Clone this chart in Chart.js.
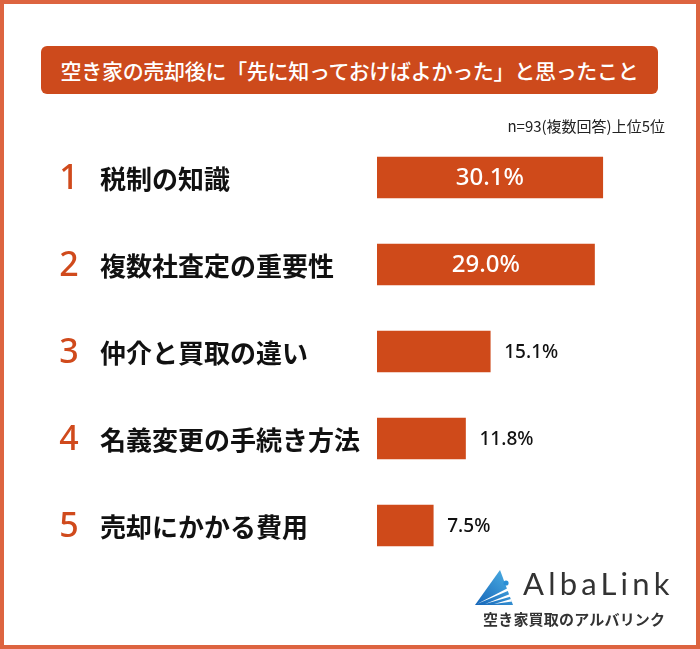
<!DOCTYPE html>
<html lang="ja">
<head>
  <meta charset="UTF-8">
  <title>空き家の売却後に「先に知っておけばよかった」と思ったこと</title>
  <script src="https://cdn.jsdelivr.net/npm/chart.js"></script>
  <style>
    body {
      margin: 0;
      padding: 0;
      background-color: #fff;
      font-family: "Noto Sans CJK JP", "Noto Sans", sans-serif;
    }

    .frame {
      position: relative;
      width: 700px;
      height: 649px;
      box-sizing: border-box;
      border: 4px solid #dd6440;
      overflow: hidden;
    }

    canvas {
      position: absolute;
      left: -4px;
      top: -4px;
    }

    .title {
      position: absolute;
      left: 37px;
      top: 42px;
      width: 617px;
      height: 48px;
      border-radius: 6px;
      background-color: #cd4a1c;
      color: #fff;
      font-size: 21px;
      font-weight: 500;
      letter-spacing: -0.3px;
      line-height: 48px;
      text-align: center;
    }

    .note {
      position: absolute;
      right: 31px;
      top: 111px;
      font-size: 15px;
      color: #222;
    }

    .logo {
      position: absolute;
      left: 466px;
      top: 556px;
      width: 210px;
      height: 74px;
    }

    .logo svg {
      position: absolute;
      left: 3px;
      top: 6px;
    }

    .logo .name {
      position: absolute;
      left: 53px;
      top: 4px;
      font-family: Lato, "Noto Sans", sans-serif;
      font-size: 31px;
      letter-spacing: 4.2px;
      color: #333;
    }

    .logo .sub {
      position: absolute;
      left: 13px;
      top: 48px;
      font-size: 15px;
      font-weight: bold;
      letter-spacing: 0.2px;
      color: #333;
      white-space: nowrap;
    }
  </style>
</head>
<body>

  <div class="frame">
    <canvas id="rankChart" width="700" height="649"></canvas>
    <div class="title">空き家の売却後に「先に知っておけばよかった」と思ったこと</div>
    <div class="note">n=93(複数回答)上位5位</div>
    <div class="logo">
      <svg width="42" height="40" viewBox="0 0 42 40">
        <defs>
          <linearGradient id="g" x1="0" y1="1" x2="1" y2="0">
            <stop offset="0" stop-color="#1565b8"/>
            <stop offset="1" stop-color="#4fb3e6"/>
          </linearGradient>
        </defs>
        <polygon points="2,39 27,4 40,39" fill="url(#g)"/>
        <path d="M4,38 L35,22 L36,24.5 Z" fill="#fff"/>
        <path d="M12,38 L37,28 L38,30.5 Z" fill="#fff"/>
        <path d="M21,38 L38,33 L39,35.5 Z" fill="#fff"/>
        <circle cx="33" cy="17" r="2.6" fill="#2a8fd6"/>
      </svg>
      <div class="name">AlbaLink</div>
      <div class="sub">空き家買取のアルバリンク</div>
    </div>
  </div>

  <script>
    // 上位5位のデータ
    var ranks = ['1', '2', '3', '4', '5'];
    var categories = ['税制の知識', '複数社査定の重要性', '仲介と買取の違い', '名義変更の手続き方法', '売却にかかる費用'];
    var percents = [30.1, 29.0, 15.1, 11.8, 7.5];

    var orange = '#cf4a1a';

    // 順位・項目名・数値を描くプラグイン
    var labelPlugin = {
      id: 'rankLabels',
      afterDatasetsDraw: function (chart) {
        var ctx = chart.ctx;
        var yScale = chart.scales.y;
        var xScale = chart.scales.x;
        ctx.save();
        ctx.textBaseline = 'middle';
        for (var i = 0; i < categories.length; i++) {
          var y = yScale.getPixelForValue(i);

          ctx.fillStyle = '#d04a1c';
          ctx.textAlign = 'center';
          ctx.font = '500 34px "Noto Sans"';
          ctx.fillText(ranks[i], 69, y + 2);

          ctx.fillStyle = '#111';
          ctx.textAlign = 'left';
          ctx.font = 'bold 26px "Noto Sans CJK JP"';
          ctx.fillText(categories[i], 100, y + 2);

          var txt = percents[i].toFixed(1) + '%';
          var x0 = xScale.getPixelForValue(0);
          var x1 = xScale.getPixelForValue(percents[i]);
          if (percents[i] > 20) {
            ctx.fillStyle = '#fff';
            ctx.textAlign = 'center';
            ctx.font = '500 24px "Noto Sans"';
            ctx.fillText(txt, (x0 + x1) / 2, y + 1);
          } else {
            ctx.fillStyle = '#111';
            ctx.textAlign = 'left';
            ctx.font = '500 19px "Noto Sans"';
            ctx.fillText(txt, x1 + 14, y + 1);
          }
        }
        ctx.restore();
      }
    };

    var ctx = document.getElementById('rankChart').getContext('2d');

    var rankChart = new Chart(ctx, {
      type: 'bar',
      data: {
        labels: categories,
        datasets: [{
          data: percents,
          backgroundColor: orange,
          borderWidth: 0,
          barThickness: 41
        }]
      },
      options: {
        indexAxis: 'y',
        responsive: false,
        animation: false,
        layout: {
          padding: { left: 377, right: 23, top: 134, bottom: 80 }
        },
        plugins: {
          legend: { display: false },
          tooltip: { enabled: false }
        },
        scales: {
          x: { display: false, min: 0, max: 40 },
          y: { display: false }
        }
      },
      plugins: [labelPlugin]
    });
  </script>

</body>
</html>
